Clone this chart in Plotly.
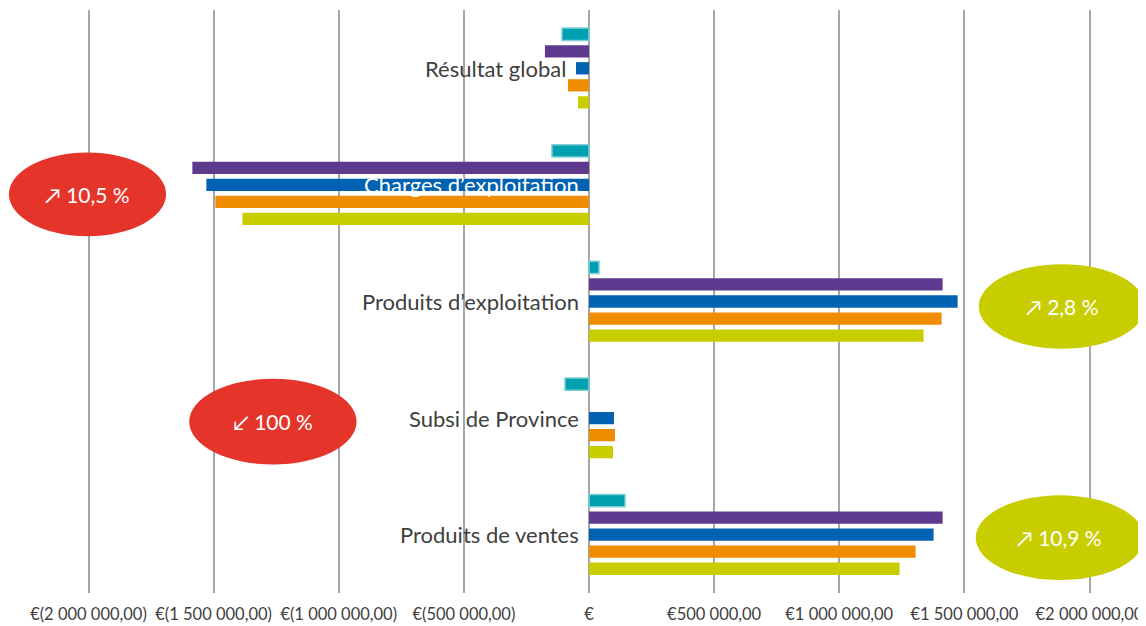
import plotly.graph_objects as go

categories = ["Produits de ventes", "Subsi de Province", "Produits d’exploitation",
              "Charges d’exploitation", "Résultat global"]

# series, bottom bar of each group first
serie_1 = [1241000, 96000, 1337000, -1385000, -44000]      # yellow-green
serie_2 = [1305000, 104000, 1409000, -1493000, -84000]     # orange
serie_3 = [1377000, 100000, 1473000, -1529000, -52000]     # blue
serie_4 = [1413000, 0, 1413000, -1585000, -176000]         # purple
serie_5 = [144000, -96000, 40000, -148000, -108000]        # teal

tick_vals = [-2000000, -1500000, -1000000, -500000, 0, 500000, 1000000, 1500000, 2000000]
tick_text = ["€(2 000 000,00)", "€(1 500 000,00)", "€(1 000 000,00)", "€(500 000,00)", "€",
             "€500 000,00", "€1 000 000,00", "€1 500 000,00", "€2 000 000,00"]

bubble_text = ["↗ 10,5 %", "↙ 100 %", "↗ 2,8 %", "↗ 10,9 %"]

series = [
    (serie_1, "#c8cd00", None),
    (serie_2, "#f08c00", None),
    (serie_3, "#0062b0", None),
    (serie_4, "#5e3a8e", None),
    (serie_5, "#00a0b0", "#7fcfd7"),
]

fig = go.Figure()
for vals, color, outline in series:
    fig.add_trace(go.Bar(
        y=categories, x=vals, orientation="h",
        marker=dict(color=color,
                    line=dict(color=outline or color, width=1.5 if outline else 0)),
        showlegend=False,
    ))

font_name = "Lato, 'Open Sans', sans-serif"

# category labels next to the zero line
for cat in categories:
    fig.add_annotation(x=0, y=cat, xref="x", yref="y", text=cat, showarrow=False,
                       xanchor="right", yanchor="middle",
                       xshift=-21 if cat.startswith("Résultat") else -8,
                       font=dict(size=22, color="white" if cat.startswith("Charges") else "#404040",
                                 family=font_name))

# ellipses with growth rates (page is offset 8px by the body margin)
bubbles = [
    (-0.0778, 0.0788, 0.612, 0.7556, "#e5352b"),
    (0.1018, 0.2685, 0.2205, 0.3675, "#e5352b"),
    (0.8882, 1.0539, 0.4188, 0.5641, "#c8cd00"),
    (0.8852, 1.0529, 0.0222, 0.1675, "#c8cd00"),
]
for (x0, x1, y0, y1, col), txt in zip(bubbles, bubble_text):
    fig.add_shape(type="circle", xref="paper", yref="paper", x0=x0, x1=x1, y0=y0, y1=y1,
                  fillcolor=col, line=dict(width=0), layer="above")
    fig.add_annotation(xref="paper", yref="paper", x=(x0 + x1) / 2, y=(y0 + y1) / 2,
                       text=txt, showarrow=False, xanchor="center", yanchor="middle",
                       font=dict(size=21, color="white", family=font_name))

fig.update_layout(
    barmode="group",
    bargap=0.27,
    bargroupgap=0.28,
    width=1138, height=618,
    margin=dict(l=79, r=54, t=2, b=31),
    plot_bgcolor="white", paper_bgcolor="white",
    font=dict(family=font_name, color="#404040"),
    xaxis=dict(range=[-2006000, 2006000], tickvals=tick_vals, ticktext=tick_text,
               showgrid=True, gridcolor="#a6a6a6", gridwidth=1.5,
               zeroline=True, zerolinecolor="#a6a6a6", zerolinewidth=1.5,
               tickfont=dict(size=16.5, color="#404040"), ticks="",
               ticklabelstandoff=9),
    yaxis=dict(showticklabels=False, showgrid=False, zeroline=False),
)

fig.write_html("out.html", config={"displayModeBar": False})
